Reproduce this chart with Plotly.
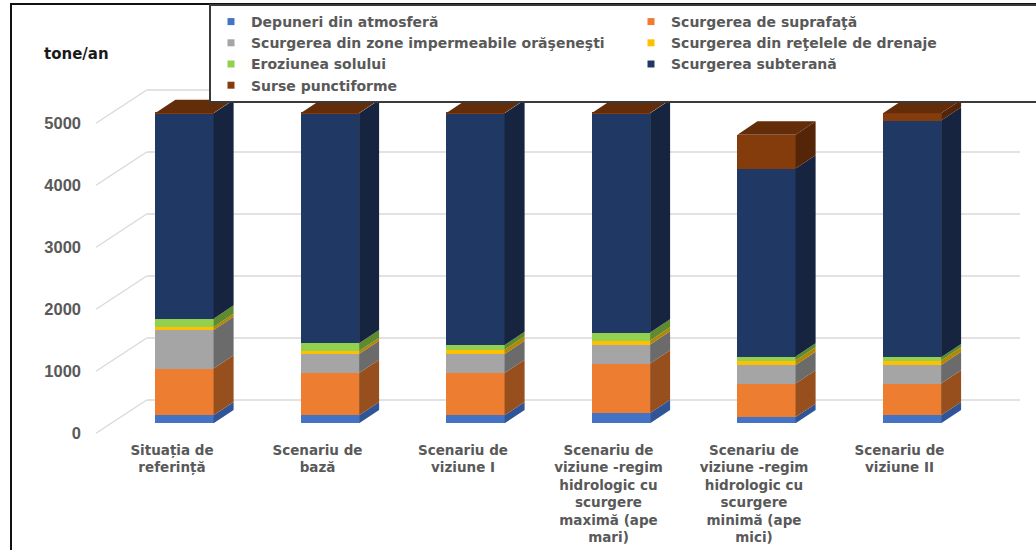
import plotly.graph_objects as go

# ---------------- data ----------------
categories = [
    "Situația de<br>referință",
    "Scenariu de<br>bază",
    "Scenariu de<br>viziune I",
    "Scenariu de<br>viziune -regim<br>hidrologic cu<br>scurgere<br>maximă (ape<br>mari)",
    "Scenariu de<br>viziune -regim<br>hidrologic cu<br>scurgere<br>minimă (ape<br>mici)",
    "Scenariu de<br>viziune II",
]
series_names = [
    "Depuneri din atmosferă",
    "Scurgerea de suprafaţă",
    "Scurgerea din zone impermeabile orăşeneşti",
    "Scurgerea din reţelele de drenaje",
    "Eroziunea solului",
    "Scurgerea subterană",
    "Surse punctiforme",
]
depuneri = [129, 129, 129, 167, 102, 129]
suprafata = [753, 683, 683, 796, 538, 511]
impermeabile = [624, 306, 306, 306, 301, 301]
drenaje = [48, 48, 70, 65, 70, 70]
eroziune = [134, 124, 75, 129, 65, 54]
subterana = [3312, 3710, 3737, 3538, 3032, 3817]
punctiforme = [5, 5, 5, 5, 548, 118]
y_ticks = [0, 1000, 2000, 3000, 4000, 5000]
y_title = "tone/an"

series_values = [depuneri, suprafata, impermeabile, drenaje, eroziune, subterana, punctiforme]

# ---------------- styles ----------------
front_colors = ["#4472C4", "#ED7D31", "#A5A5A5", "#FFC000", "#92D050", "#203864", "#843C0C"]
side_colors = ["#2F5597", "#984F1E", "#6B6B6B", "#B38700", "#5E8A30", "#16243F", "#55250A"]
top_color = "#632D0A"

W, H = 1036, 550
ML, MR, MT, MB = 90, 14, 85, 110
PX_X = 145.5          # pixels per category step
PX_Y = 0.062          # pixels per value unit
X0_PX = 184.5         # pixel of first category centre
Y0_PX = 423.3         # pixel of value 0 (front plane of bars)
BAR_W = 0.4
DEPTH_DX = 20 / PX_X
DEPTH_DY = 13.3 / PX_Y

def px_to_x(px):
    return (px - X0_PX) / PX_X

def px_to_y(py):
    return (Y0_PX - py) / PX_Y

x_range = [px_to_x(ML), px_to_x(W - MR)]
y_range = [px_to_y(H - MB), px_to_y(MT)]

wall_front_x = px_to_x(96)
wall_back_x = px_to_x(146.7)
wall_right_x = px_to_x(1020)
wall_front_dy = -10 / PX_Y
wall_back_dy = 23.3 / PX_Y

xs = list(range(len(categories)))
fig = go.Figure()

# front faces
for name, vals, col in zip(series_names, series_values, front_colors):
    fig.add_trace(go.Bar(x=xs, y=vals, width=BAR_W, name=name, marker=dict(color=col, line=dict(width=0)),
                         showlegend=False))

# side faces
bottoms = [0] * len(xs)
for name, vals, col in zip(series_names, series_values, side_colors):
    px_, py_ = [], []
    for i, v in enumerate(vals):
        xr = i + BAR_W / 2
        b = bottoms[i]
        t = b + v
        px_ += [xr, xr + DEPTH_DX, xr + DEPTH_DX, xr, xr, None]
        py_ += [b, b + DEPTH_DY, t + DEPTH_DY, t, b, None]
        bottoms[i] = t
    fig.add_trace(go.Scatter(x=px_, y=py_, mode="lines", fill="toself", fillcolor=col,
                             line=dict(width=0, color=col), showlegend=False, hoverinfo="skip"))

# top faces
tx, ty = [], []
for i, tot in enumerate(bottoms):
    xl, xr = i - BAR_W / 2, i + BAR_W / 2
    tx += [xl, xl + DEPTH_DX, xr + DEPTH_DX, xr, xl, None]
    ty += [tot, tot + DEPTH_DY, tot + DEPTH_DY, tot, tot, None]
fig.add_trace(go.Scatter(x=tx, y=ty, mode="lines", fill="toself", fillcolor=top_color,
                         line=dict(width=0, color=top_color), showlegend=False, hoverinfo="skip"))

# legend proxies
for name, col in zip(series_names, front_colors):
    fig.add_trace(go.Scatter(x=[None], y=[None], mode="markers", name=name,
                             marker=dict(symbol="square", size=7, color=col)))

# wall gridlines
shapes = []
for v in y_ticks:
    shapes.append(dict(type="line", xref="x", yref="y", layer="below",
                       x0=wall_front_x, y0=v + wall_front_dy, x1=wall_back_x, y1=v + wall_back_dy,
                       line=dict(color="#D9D9D9", width=1.3)))
    shapes.append(dict(type="line", xref="x", yref="y", layer="below",
                       x0=wall_back_x, y0=v + wall_back_dy, x1=wall_right_x, y1=v + wall_back_dy,
                       line=dict(color="#D9D9D9", width=1.3)))
# outer frame
pw, ph = W - ML - MR, H - MT - MB
shapes.append(dict(type="rect", xref="paper", yref="paper", layer="above",
                   x0=(11 - ML) / pw, x1=1.3, y0=-0.6, y1=(H - MB - 4) / ph,
                   line=dict(color="#111111", width=2)))

fig.update_layout(
    width=W, height=H,
    margin=dict(l=ML, r=MR, t=MT, b=MB, autoexpand=False),
    barmode="stack",
    plot_bgcolor="white", paper_bgcolor="white",
    shapes=shapes,
    showlegend=True,
    legend=dict(orientation="h", x=(209 - ML) / pw, y=(H - MB - 4) / ph, xanchor="left", yanchor="top",
                entrywidth=375, bgcolor="white", bordercolor="#3A3A3A", borderwidth=2,
                font=dict(family="DejaVu Sans", size=14, color="#595959", weight="bold"),
                traceorder="normal"),
    xaxis=dict(range=x_range, showgrid=False, zeroline=False, showline=False,
               tickvals=[i + px_to_x(X0_PX - 12.5) for i in xs], ticktext=categories,
               tickfont=dict(family="DejaVu Sans", size=13.5, color="#595959", weight="bold"),
               ticks="", tickangle=0),
    yaxis=dict(range=y_range, showgrid=False, zeroline=False, showline=False,
               tickvals=[v + wall_front_dy for v in y_ticks], ticktext=[str(v) for v in y_ticks],
               tickfont=dict(family="Liberation Sans", size=16.5, color="#595959", weight="bold"),
               ticks="", ticklabelstandoff=8),
    annotations=[dict(text=y_title, xref="paper", yref="paper", x=(42 - ML) / pw, y=(H - MB - 54) / ph,
                      xanchor="left", yanchor="middle", showarrow=False,
                      font=dict(family="DejaVu Sans", size=15, color="#1A1A1A", weight="bold"))],
)

fig.write_html("out.html", config={"displayModeBar": False},
               post_script="document.body.style.margin='0';document.body.style.overflow='hidden';")
